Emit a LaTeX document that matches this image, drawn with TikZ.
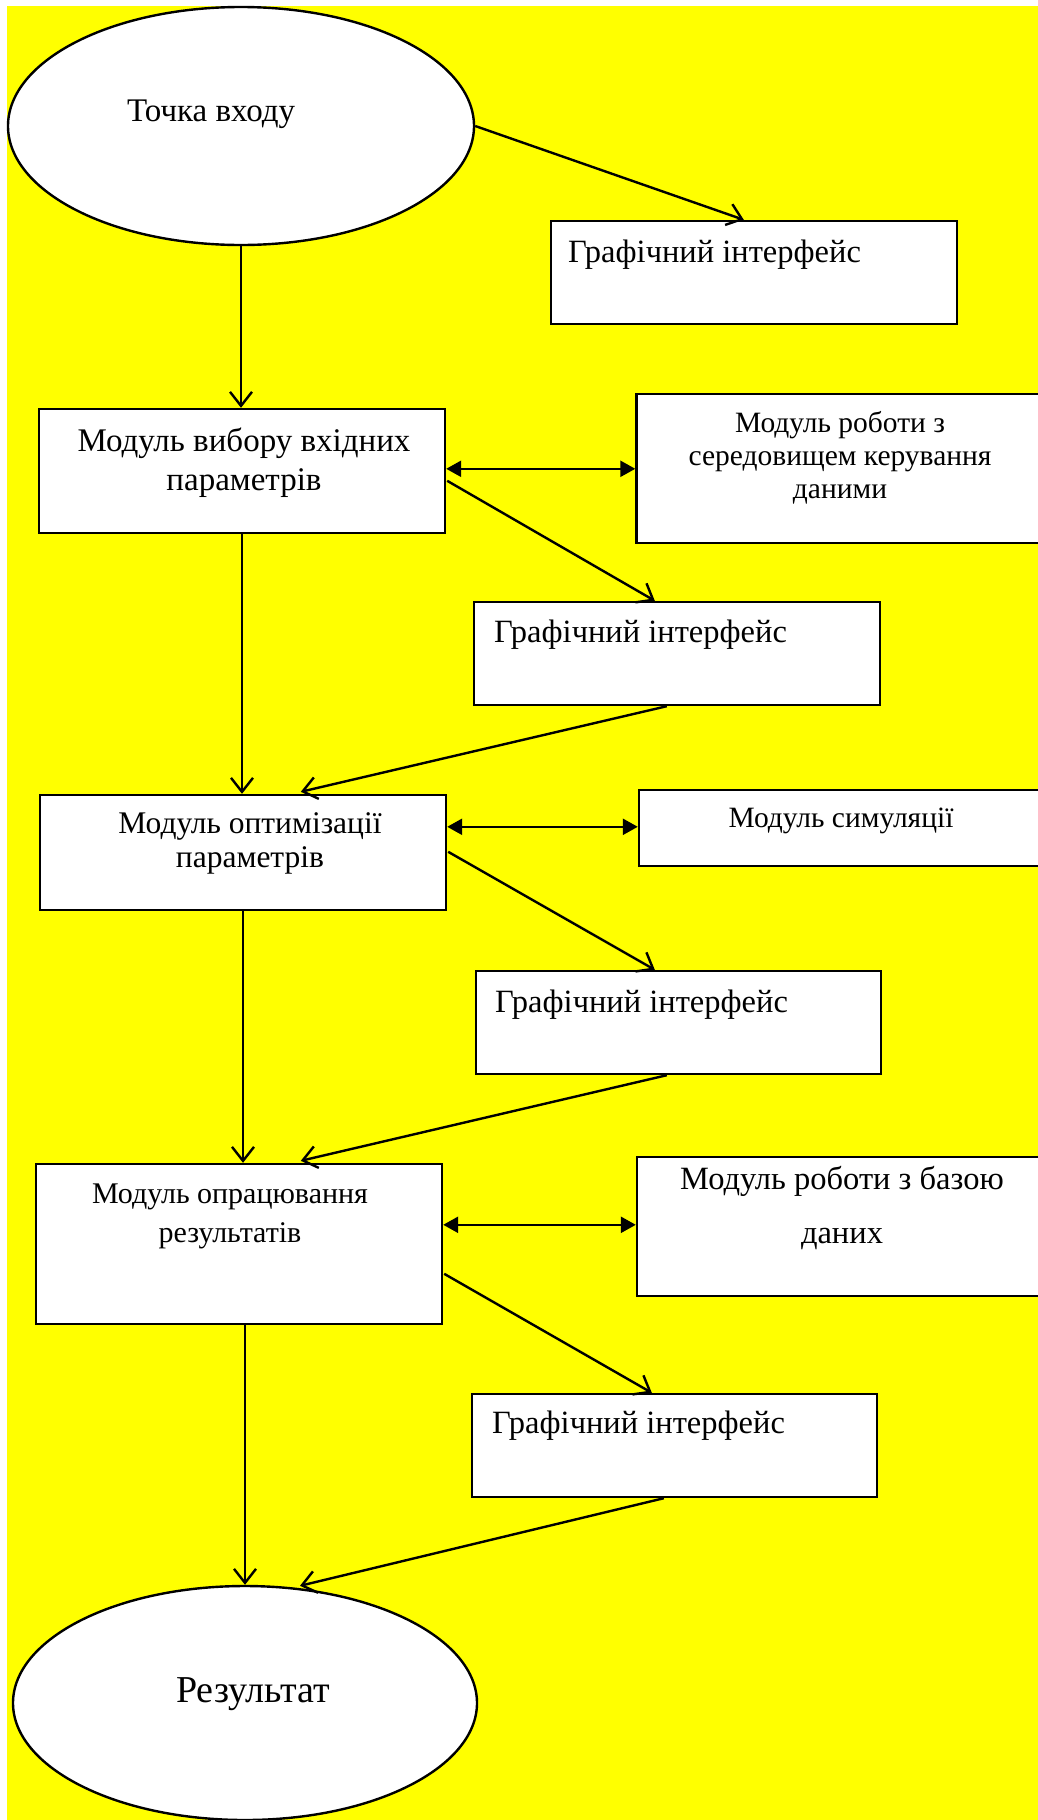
\documentclass[tikz,border=0pt]{standalone}
\usepackage{fontspec}
\setmainfont{Liberation Serif}
\usetikzlibrary{shapes.geometric,arrows.meta,calc}
\definecolor{bgyellow}{RGB}{255,255,0}
\begin{document}
\begin{tikzpicture}[x=1pt,y=-1pt,
  box/.style={draw, fill=white, line width=2.4pt, rectangle, inner sep=0pt},
  oval/.style={draw, fill=white, line width=2.4pt, ellipse, inner sep=0pt},
  lbl/.style={inner sep=0pt, align=center},
  conn/.style={line width=2.4pt, -{Straight Barb[length=14pt,width=22pt]}},
  both/.style={line width=2.4pt, {Triangle[length=15pt,width=16pt]}-{Triangle[length=15pt,width=16pt]}}
]
\useasboundingbox (0,0) rectangle (1038,1820);
\fill[bgyellow] (7,6) rectangle (1038,1820);

% shapes
\node[oval, minimum width=466pt, minimum height=238pt] (start) at (241,126) {};
\node[box, minimum width=406pt, minimum height=103pt] (g1) at (754,272.5) {};
\node[box, minimum width=406pt, minimum height=124pt] (m1) at (242,471) {};
\node[box, minimum width=409pt, minimum height=149pt] (db1) at (841,468.5) {};
\node[box, minimum width=406pt, minimum height=103pt] (g2) at (677,653.5) {};
\node[box, minimum width=406pt, minimum height=115pt] (m2) at (243,852.5) {};
\node[box, minimum width=406pt, minimum height=76pt] (sim) at (842,828) {};
\node[box, minimum width=405pt, minimum height=103pt] (g3) at (678.5,1022.5) {};
\node[box, minimum width=406pt, minimum height=160pt] (m3) at (239,1244) {};
\node[box, minimum width=408pt, minimum height=139pt] (db2) at (841,1226.5) {};
\node[box, minimum width=405pt, minimum height=103pt] (g4) at (674.5,1445.5) {};
\node[oval, minimum width=464pt, minimum height=234pt] (res) at (245,1703) {};

% texts (anchor base = baseline of last line)
\node[lbl, anchor=base west, font=\fontsize{33}{38}\selectfont] (tstart) at (127,121) {Точка входу};
\node[lbl, anchor=base west, font=\fontsize{32.5}{37}\selectfont] (tg1) at (568,262) {Графічний інтерфейс};
\node[lbl, anchor=base, font=\fontsize{33}{39}\selectfont] (tm1) at (244,490) {Модуль вибору вхідних\\параметрів};
\node[lbl, anchor=base, font=\fontsize{29.5}{33}\selectfont] (tdb1) at (840,498) {Модуль роботи з\\середовищем керування\\даними};
\node[lbl, anchor=base west, font=\fontsize{32.5}{37}\selectfont] (tg2) at (494,642) {Графічний інтерфейс};
\node[lbl, anchor=base, font=\fontsize{31.5}{34}\selectfont] (tm2) at (250,867) {Модуль оптимізації\\параметрів};
\node[lbl, anchor=base, font=\fontsize{29.5}{33}\selectfont] (tsim) at (841,827) {Модуль симуляції};
\node[lbl, anchor=base west, font=\fontsize{32.5}{37}\selectfont] (tg3) at (495,1012) {Графічний інтерфейс};
\node[lbl, anchor=base, font=\fontsize{30}{39}\selectfont] (tm3) at (230,1242) {Модуль опрацювання\\результатів};
\node[lbl, anchor=base, font=\fontsize{32.5}{54}\selectfont] (tdb2) at (842,1243) {Модуль роботи з базою\\даних};
\node[lbl, anchor=base west, font=\fontsize{32.5}{37}\selectfont] (tg4) at (492,1433) {Графічний інтерфейс};
\node[lbl, anchor=base, font=\fontsize{38}{44}\selectfont] (tres) at (253,1702) {Результат};

% anchor points for side connectors
\coordinate (a1) at ($(m1.north east)+(0,61)$);
\coordinate (a2) at ($(m2.north east)+(0,33)$);
\coordinate (a3) at ($(m3.north east)+(0,62)$);

% connectors
\draw[conn] (start.east) -- ($(g1.north west)+(194,0)$);
\draw[conn] (start.south) -- (start.south |- m1.north);
\draw[both] (a1) -- (a1 -| db1.west);
\draw[conn] ($(m1.north east)+(1,73)$) -- ($(g2.north west)+(182,0)$);
\draw[conn] (m1.south) -- (m1.south |- m2.north);
\draw[conn] ($(g2.south west)+(194,0)$) -- ($(m2.north west)+(262,-2)$);
\draw[both] (a2) -- (a2 -| sim.west);
\draw[conn] ($(m2.north east)+(1,58)$) -- ($(g3.north west)+(180,0)$);
\draw[conn] (m2.south) -- (m2.south |- m3.north);
\draw[conn] ($(g3.south west)+(192,0)$) -- ($(m3.north west)+(266,-2)$);
\draw[both] (a3) -- (a3 -| db2.west);
\draw[conn] ($(m3.north east)+(1,111)$) -- ($(g4.north west)+(181,0)$);
\draw[conn] (res.north |- m3.south) -- (res.north);
\draw[conn] ($(g4.south west)+(193,0)$) -- ($(res.north)+(55,1)$);
\end{tikzpicture}
\end{document}
